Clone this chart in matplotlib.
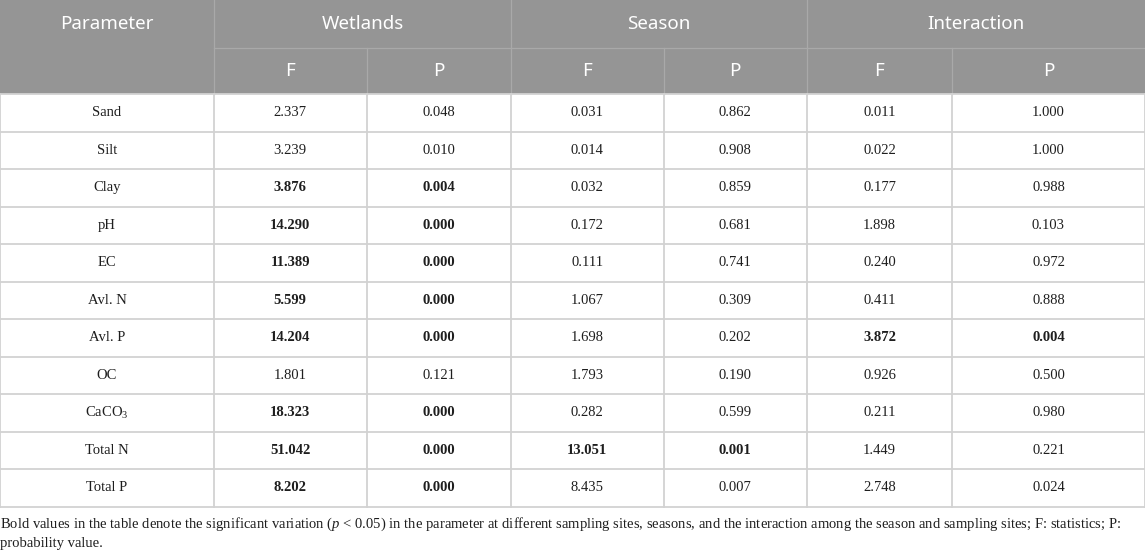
import matplotlib.pyplot as plt
from matplotlib.patches import Rectangle

plt.rcParams['mathtext.fontset'] = 'custom'
plt.rcParams['mathtext.rm'] = 'Liberation Serif'
plt.rcParams['mathtext.it'] = 'Liberation Serif:italic'
plt.rcParams['mathtext.bf'] = 'Liberation Serif:bold'

## TABLE DATA ##
groups = ["Wetlands", "Season", "Interaction"]
sub_cols = ["F", "P"]
params = ["Sand", "Silt", "Clay", "pH", "EC", "Avl. N", "Avl. P", "OC",
          "CaCO$_3$", "Total N", "Total P"]
wet_F = ["2.337", "3.239", "3.876", "14.290", "11.389", "5.599", "14.204",
         "1.801", "18.323", "51.042", "8.202"]
wet_P = ["0.048", "0.010", "0.004", "0.000", "0.000", "0.000", "0.000",
         "0.121", "0.000", "0.000", "0.000"]
sea_F = ["0.031", "0.014", "0.032", "0.172", "0.111", "1.067", "1.698",
         "1.793", "0.282", "13.051", "8.435"]
sea_P = ["0.862", "0.908", "0.859", "0.681", "0.741", "0.309", "0.202",
         "0.190", "0.599", "0.001", "0.007"]
int_F = ["0.011", "0.022", "0.177", "1.898", "0.240", "0.411", "3.872",
         "0.926", "0.211", "1.449", "2.748"]
int_P = ["1.000", "1.000", "0.988", "0.103", "0.972", "0.888", "0.004",
         "0.500", "0.980", "0.221", "0.024"]
# bold flags per column (significant values)
bold_wet = [False, False, True, True, True, True, True, False, True, True, True]
bold_sea = [False] * 9 + [True, False]
bold_int = [False] * 6 + [True] + [False] * 4
footnote = ("Bold values in the table denote the significant variation ($\\mathit{p}$ < 0.05) in the parameter "
            "at different sampling sites, seasons, and the interaction among the season and sampling sites; "
            "F: statistics; P:\nprobability value.")

columns = [(wet_F, bold_wet), (wet_P, bold_wet), (sea_F, bold_sea),
           (sea_P, bold_sea), (int_F, bold_int), (int_P, bold_int)]

# layout (pixels)
W, H = 1145, 553
xs = [0, 214, 366.5, 511, 663.5, 807, 952, 1145]
h1, h2 = 48, 94
row_h = 37.5
head_col = '#959595'
grid_col = '#d2d2d2'
serif = 'Liberation Serif'
sans = 'Noto Sans'

fig = plt.figure(figsize=(W / 100, H / 100), dpi=100)
ax = fig.add_axes([0, 0, 1, 1])
ax.set_xlim(0, W)
ax.set_ylim(H, 0)
ax.axis('off')

# header
ax.add_patch(Rectangle((0, 0), W, h2, facecolor=head_col, edgecolor='none'))
for x in xs[1:-1]:
    y0 = 0 if x in (xs[1], xs[3], xs[5]) else h1
    ax.plot([x, x], [y0, h2], color='#a9a9a9', lw=0.9)
ax.plot([xs[1], W], [h1, h1], color='#a9a9a9', lw=0.9)

ax.text(xs[1] / 2, h1 / 2, "Parameter", ha='center', va='center',
        color='white', fontsize=13.5, family=sans)
for i, g in enumerate(groups):
    xc = (xs[1 + 2 * i] + xs[3 + 2 * i]) / 2
    ax.text(xc, h1 / 2, g, ha='center', va='center', color='white',
            fontsize=13.5, family=sans)
for j in range(6):
    xc = (xs[1 + j] + xs[2 + j]) / 2
    ax.text(xc, (h1 + h2) / 2, sub_cols[j % 2], ha='center', va='center',
            color='white', fontsize=13.5, family=sans)

# body rows
n = len(params)
bottom = h2 + n * row_h
for i in range(n + 1):
    y = h2 + i * row_h
    ax.plot([0, W], [y, y], color=grid_col, lw=1.3)
for x in xs:
    ax.plot([x, x], [h2, bottom], color=grid_col, lw=1.3)

for i, p in enumerate(params):
    yc = h2 + (i + 0.5) * row_h
    ax.text(xs[1] / 2, yc, p, ha='center', va='center', fontsize=10.5,
            family=serif, color='#1e1e1e')
    for j, (vals, bolds) in enumerate(columns):
        xc = (xs[1 + j] + xs[2 + j]) / 2
        ax.text(xc, yc, vals[i], ha='center', va='center', fontsize=10.5,
                family=serif, color='#1e1e1e',
                fontweight='bold' if bolds[i] else 'normal')

ax.text(0, bottom + 9, footnote, ha='left', va='top', fontsize=10.5,
        family=serif, color='#1e1e1e', linespacing=1.45)

fig.savefig('out.png', dpi=100)
